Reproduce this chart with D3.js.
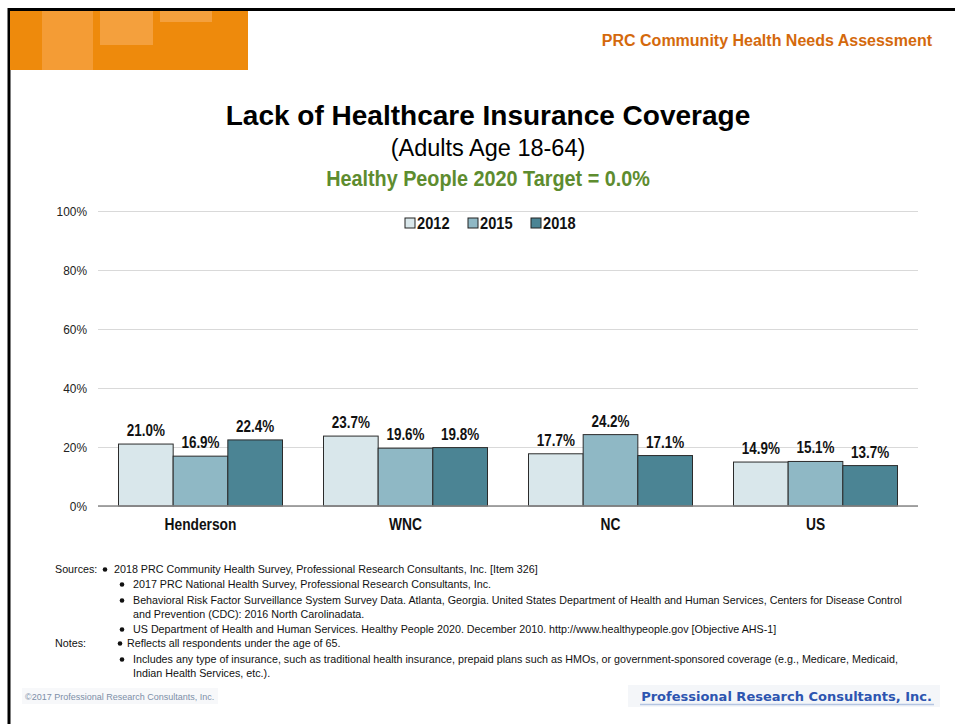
<!DOCTYPE html>
<html>
<head>
<meta charset="utf-8">
<script src="https://cdn.jsdelivr.net/npm/d3@7"></script>
<style>
  body { margin: 0; background: #fff; }
  svg { display: block; font-family: "Liberation Sans", Arial, sans-serif; }
</style>
</head>
<body>
<svg id="chart" width="955" height="724"></svg>
<script>
// chart data
var regions = ["Henderson", "WNC", "NC", "US"];
var years = ["2012", "2015", "2018"];
var values2012 = [21.0, 23.7, 17.7, 14.9];
var values2015 = [16.9, 19.6, 24.2, 15.1];
var values2018 = [22.4, 19.8, 17.1, 13.7];
var yTicks = [0, 20, 40, 60, 80, 100];
var yearColors = ["#d9e7eb", "#8fb8c5", "#4b8494"];

var sourceLines = [
    "2018 PRC Community Health Survey, Professional Research Consultants, Inc. [Item 326]",
    "2017 PRC National Health Survey, Professional Research Consultants, Inc.",
    "Behavioral Risk Factor Surveillance System Survey Data. Atlanta, Georgia. United States Department of Health and Human Services, Centers for Disease Control",
    "and Prevention (CDC): 2016 North Carolinadata.",
    "US Department of Health and Human Services. Healthy People 2020. December 2010. http://www.healthypeople.gov [Objective AHS-1]"
];
var noteLines = [
    "Reflects all respondents under the age of 65.",
    "Includes any type of insurance, such as traditional health insurance, prepaid plans such as HMOs, or government-sponsored coverage (e.g., Medicare, Medicaid,",
    "Indian Health Services, etc.)."
];

var seriesValues = [values2012, values2015, values2018];
var data = regions.map(function (r, i) {
    return { region: r, vals: years.map(function (y, j) { return { year: y, value: seriesValues[j][i] }; }) };
});

// squeeze text horizontally to mimic the narrow font of the original
function narrow(sel, k) {
    sel.each(function () {
        var w = this.getComputedTextLength();
        d3.select(this).attr("textLength", w * k).attr("lengthAdjust", "spacingAndGlyphs");
    });
}

var svg = d3.select("#chart");

// frame
svg.append("line").attr("x1", 8).attr("x2", 955).attr("y1", 9.5).attr("y2", 9.5)
    .attr("stroke", "#000").attr("stroke-width", 3);
svg.append("line").attr("x1", 9).attr("x2", 9).attr("y1", 8).attr("y2", 724)
    .attr("stroke", "#000").attr("stroke-width", 3);

// orange header block
var hdr = svg.append("g");
hdr.append("rect").attr("x", 10).attr("y", 11).attr("width", 238).attr("height", 59).attr("fill", "#ee8a0c");
hdr.append("rect").attr("x", 42).attr("y", 11).attr("width", 51).attr("height", 59).attr("fill", "#f5a143").attr("opacity", 0.75);
hdr.append("rect").attr("x", 100).attr("y", 11).attr("width", 53).attr("height", 34).attr("fill", "#f5a54a").attr("opacity", 0.8);
hdr.append("rect").attr("x", 160).attr("y", 11).attr("width", 52).attr("height", 11).attr("fill", "#f5a54a").attr("opacity", 0.8);

svg.append("text").attr("x", 932).attr("y", 46).attr("text-anchor", "end")
    .attr("font-size", 16).attr("font-weight", "bold").attr("fill", "#d4690c")
    .text("PRC Community Health Needs Assessment");

// titles
svg.append("text").attr("x", 488).attr("y", 125).attr("text-anchor", "middle")
    .attr("font-size", 28).attr("font-weight", "bold").attr("fill", "#000")
    .text("Lack of Healthcare Insurance Coverage");
svg.append("text").attr("x", 488).attr("y", 156).attr("text-anchor", "middle")
    .attr("font-size", 23.5).attr("fill", "#000")
    .text("(Adults Age 18-64)");
svg.append("text").attr("x", 488).attr("y", 186).attr("text-anchor", "middle")
    .attr("font-size", 22).attr("font-weight", "bold").attr("fill", "#5e8c2f")
    .text("Healthy People 2020 Target = 0.0%")
    .call(narrow, 0.9);

// scales
var x0 = d3.scaleBand().domain(regions).range([98, 918]).paddingInner(0.2).paddingOuter(0.1);
var x1 = d3.scaleBand().domain(years).range([0, x0.bandwidth()]);
var y = d3.scaleLinear().domain([0, 100]).range([506, 211]);
var color = d3.scaleOrdinal().domain(years).range(yearColors);

// gridlines + y axis labels
var yAxis = svg.append("g").attr("transform", "translate(98,0)")
    .call(d3.axisLeft(y).tickValues(yTicks).tickSize(-820).tickFormat(function (d) { return d + "%"; }));
yAxis.select(".domain").remove();
yAxis.selectAll(".tick line").attr("stroke", "#d9d9d9").attr("stroke-width", 1.2);
yAxis.selectAll(".tick text").attr("x", -11).attr("font-size", 12.5).attr("fill", "#222")
    .attr("font-family", "'Liberation Sans', Arial, sans-serif")
    .call(narrow, 0.95);

// bars
var groups = svg.selectAll(".grp").data(data).enter().append("g")
    .attr("class", "grp")
    .attr("transform", function (d) { return "translate(" + x0(d.region) + ",0)"; });

groups.selectAll("rect").data(function (d) { return d.vals; }).enter().append("rect")
    .attr("x", function (d) { return x1(d.year); })
    .attr("y", function (d) { return y(d.value); })
    .attr("width", x1.bandwidth())
    .attr("height", function (d) { return y(0) - y(d.value); })
    .attr("fill", function (d) { return color(d.year); })
    .attr("stroke", "#2b2b2b").attr("stroke-width", 1);

groups.selectAll(".lbl").data(function (d) { return d.vals; }).enter().append("text")
    .attr("class", "lbl")
    .attr("x", function (d) { return x1(d.year) + x1.bandwidth() / 2; })
    .attr("y", function (d) { return y(d.value) - 8; })
    .attr("text-anchor", "middle")
    .attr("font-size", 16).attr("font-weight", "bold").attr("fill", "#111")
    .text(function (d) { return d.value.toFixed(1) + "%"; })
    .call(narrow, 0.84);

// x axis
var xAxis = svg.append("g").attr("transform", "translate(0,506)")
    .call(d3.axisBottom(x0).tickSize(0).tickPadding(13));
xAxis.select(".domain").attr("stroke", "#888").attr("stroke-width", 1.5).attr("d", "M98,0H918");
xAxis.selectAll(".tick text").attr("font-weight", "bold").attr("fill", "#111")
    .attr("font-family", "'Liberation Sans', Arial, sans-serif")
    .style("font-size", "16px")
    .call(narrow, 0.86);

// legend
var legend = svg.append("g").attr("transform", "translate(405,223)");
var leg = legend.selectAll("g").data(years).enter().append("g")
    .attr("transform", function (d, i) { return "translate(" + (i * 63) + ",0)"; });
leg.append("rect").attr("x", 0).attr("y", -5).attr("width", 10).attr("height", 10)
    .attr("fill", function (d) { return color(d); }).attr("stroke", "#222").attr("stroke-width", 1);
leg.append("text").attr("x", 12).attr("y", 6)
    .attr("font-size", 17).attr("font-weight", "bold").attr("fill", "#111")
    .text(function (d) { return d; })
    .call(narrow, 0.86);

// sources & notes
var notes = svg.append("g").attr("font-size", 11).attr("fill", "#111");
notes.append("text").attr("x", 55).attr("y", 573).text("Sources:").call(narrow, 0.975);
notes.append("text").attr("x", 55).attr("y", 647).text("Notes:").call(narrow, 0.975);
var srcY = [573, 588, 604, 618, 633];
sourceLines.forEach(function (t, i) {
    var bx = i === 0 ? 105 : 122;
    var tx = i === 0 ? 114 : 133;
    if (i !== 3) notes.append("circle").attr("cx", bx).attr("cy", srcY[i] - 3.5).attr("r", 2.3).attr("fill", "#111");
    notes.append("text").attr("x", tx).attr("y", srcY[i]).text(t).call(narrow, 0.975);
});
var noteY = [647, 663, 677];
noteLines.forEach(function (t, i) {
    var bx = i === 0 ? 120 : 122;
    var tx = i === 0 ? 127 : 133;
    if (i !== 2) notes.append("circle").attr("cx", bx).attr("cy", noteY[i] - 3.5).attr("r", 2.3).attr("fill", "#111");
    notes.append("text").attr("x", tx).attr("y", noteY[i]).text(t).call(narrow, 0.975);
});

// footer
svg.append("rect").attr("x", 22).attr("y", 688).attr("width", 196).attr("height", 16).attr("fill", "#f7f8fa");
svg.append("text").attr("x", 25).attr("y", 700).attr("font-size", 9).attr("fill", "#7d8fa8")
    .text("\u00A92017 Professional Research Consultants, Inc.");
svg.append("rect").attr("x", 628).attr("y", 685).attr("width", 312).attr("height", 22).attr("fill", "#f4f6f9");
svg.append("text").attr("x", 932).attr("y", 701).attr("text-anchor", "end")
    .attr("font-family", "'DejaVu Sans', Verdana, sans-serif")
    .attr("font-size", 13).attr("font-weight", "bold").attr("fill", "#2d55b0")
    .text("Professional Research Consultants, Inc.");
svg.append("line").attr("x1", 640).attr("x2", 934).attr("y1", 704.5).attr("y2", 704.5)
    .attr("stroke", "#b5c5e2").attr("stroke-width", 1.5);
</script>
</body>
</html>
